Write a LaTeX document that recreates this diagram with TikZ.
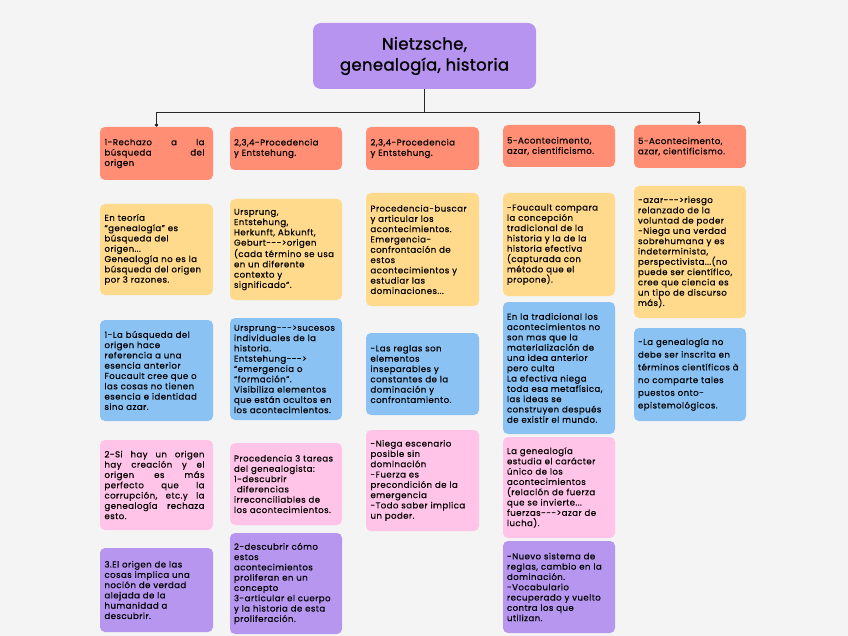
\documentclass[tikz,border=0pt]{standalone}
\usepackage{fontspec}
\setmainfont{Poppins}
\newfontfamily\cajafont[LetterSpace=5,FakeBold=0.4]{Poppins}
\newfontfamily\titulofont[LetterSpace=2,FakeBold=1.2]{Poppins}
\usetikzlibrary{arrows.meta}
\definecolor{FondoGris}{RGB}{244,244,244}
\definecolor{LilaTitulo}{RGB}{183,148,240}
\definecolor{SalmonCab}{RGB}{255,142,116}
\definecolor{AmarilloCaja}{RGB}{255,218,140}
\definecolor{AzulCaja}{RGB}{138,194,244}
\definecolor{RosaCaja}{RGB}{255,196,232}
\definecolor{LilaCaja}{RGB}{183,150,240}
\newcommand{\lj}[1]{\leavevmode\hbox to 100pt{#1}}

\tikzset{
  caja/.style={rounded corners=5pt, inner sep=0pt, text width=104pt, align=left,
    minimum width=113pt, font=\cajafont\fontsize{8.6}{10.3}\selectfont},
  cab/.style={caja, fill=SalmonCab},
  amarilla/.style={caja, fill=AmarilloCaja},
  azul/.style={caja, fill=AzulCaja},
  rosa/.style={caja, fill=RosaCaja},
  lila/.style={caja, fill=LilaCaja},
  enlace/.style={line width=0.8pt, draw=black!85},
}

\begin{document}
\begin{tikzpicture}[x=1pt,y=-1pt]
  \useasboundingbox (0,0) rectangle (848,636);
  \fill[FondoGris] (0,0) rectangle (848,636);

  \node[fill=LilaTitulo, rounded corners=8pt, minimum width=223pt, minimum height=66pt,
        align=center, font=\titulofont\fontsize{16.5}{21}\selectfont]
       (titulo) at (424.5,56) {Nietzsche,\\genealogía, historia};

  % columna 1
  \node[cab, minimum height=53pt] (rechazo) at (156.5,153.5)
       {\lj{1-Rechazo\hfill a\hfill la}\\\lj{búsqueda\hfill del}\\origen};
  \node[amarilla, minimum height=91pt] (teoria) at (156.5,249.5)
       {En teoría\\“genealogía” es\\búsqueda del\\origen...\\Genealogía no es la\\búsqueda del origen\\por 3 razones.};
  \node[azul, minimum height=101pt] (esencia) at (156.5,370.5)
       {1-La búsqueda del\\origen hace\\referencia a una\\esencia anterior\\Foucault cree que o\\las cosas no tienen\\esencia e identidad\\sino azar.};
  \node[rosa, minimum height=90pt] (creacion) at (156.5,485)
       {\lj{2-Si\hfill hay\hfill un\hfill origen}\\\lj{hay\hfill creación\hfill y\hfill el}\\\lj{origen\hfill es\hfill más}\\\lj{perfecto\hfill que\hfill la}\\\lj{corrupción,\hfill etc.y\hfill la}\\\lj{genealogía\hfill rechaza}\\esto.};
  \node[lila, minimum height=84pt] (verdad) at (156.5,590)
       {3.El origen de las\\cosas implica una\\noción de verdad\\alejada de la\\humanidad a\\descubrir.};

  % columna 2
  \node[cab, minimum width=112pt, minimum height=43pt] (proc1) at (286,148.5)
       {2,3,4-Procedencia\\y Entstehung.};
  \node[amarilla, minimum width=112pt, minimum height=101pt] (terminos) at (286,249.5)
       {Ursprung,\\Entstehung,\\Herkunft, Abkunft,\\Geburt-{}-{}-{}>origen\\(cada término se usa\\en un diferente\\contexto y\\significado”.};
  \node[azul, minimum width=112pt, minimum height=102pt] (sucesos) at (286,369)
       {Ursprung-{}-{}-{}>sucesos\\individuales de la\\historia.\\Entstehung-{}-{}-{}>\\“emergencia o\\“formación”.\\Visibiliza elementos\\que están ocultos en\\los acontecimientos.};
  \node[rosa, minimum width=112pt, minimum height=82pt] (tareas) at (286,484)
       {Procedencia 3 tareas\\del genealogista:\\1-descubrir\\\ diferencias\\irreconciliables de\\los acontecimientos.};
  \node[lila, minimum width=112pt, minimum height=101pt] (articular) at (286,583.5)
       {2-descubrir cómo\\estos\\acontecimientos\\proliferan en un\\concepto\\3-articular el cuerpo\\y la historia de esta\\proliferación.};

  % columna 3
  \node[cab, minimum height=43pt] (proc2) at (422.5,148.5)
       {2,3,4-Procedencia\\y Entstehung.};
  \node[amarilla, minimum height=113pt] (buscar) at (422.5,249.5)
       {Procedencia-buscar\\y articular los\\acontecimientos.\\Emergencia-\\confrontación de\\estos\\acontecimientos y\\estudiar las\\dominaciones...};
  \node[azul, minimum height=82pt] (reglas) at (422.5,374)
       {-Las reglas son\\elementos\\inseparables y\\constantes de la\\dominación y\\confrontamiento.};
  \node[rosa, minimum height=101pt] (escenario) at (422.5,480.5)
       {-Niega escenario\\posible sin\\dominación\\-Fuerza es\\precondición de la\\emergencia\\-Todo saber implica\\un poder.};

  % columna 4
  \node[cab, minimum width=112pt, minimum height=42pt] (acont1) at (559,146)
       {5-Acontecimento,\\azar, cientificismo.};
  \node[amarilla, minimum width=112pt, minimum height=103pt] (compara) at (559,244.5)
       {-Foucault compara\\la concepción\\tradicional de la\\historia y la de la\\historia efectiva\\(capturada con\\método que el\\propone).};
  \node[azul, minimum width=112pt, minimum height=132pt] (tradicional) at (559,368)
       {En la tradicional los\\acontecimientos no\\son mas que la\\materialización de\\una idea anterior\\pero culta\\La efectiva niega\\toda esa metafísica,\\las ideas se\\construyen después\\de existir el mundo.};
  \node[rosa, minimum width=112pt, minimum height=101pt] (caracter) at (559,487.5)
       {La genealogía\\estudia el carácter\\único de los\\acontecimientos\\(relación de fuerza\\que se invierte...\\fuerzas-{}-{}-{}>azar de\\lucha).};
  \node[lila, minimum width=112pt, minimum height=92pt] (sistema) at (559,587)
       {-Nuevo sistema de\\reglas, cambio en la\\dominación.\\-Vocabulario\\recuperado y vuelto\\contra los que\\utilizan.};

  % columna 5
  \node[cab, minimum width=112pt, minimum height=43pt] (acont2) at (690,146.5)
       {5-Acontecimento,\\azar, cientificismo.};
  \node[amarilla, minimum width=112pt, minimum height=132pt] (riesgo) at (690,252)
       {-azar-{}-{}-{}>riesgo\\relanzado de la\\voluntad de poder\\-Niega una verdad\\sobrehumana y es\\indeterminista,\\perspectivista...(no\\puede ser científico,\\cree que ciencia es\\un tipo de discurso\\más).};
  \node[azul, minimum width=112pt, minimum height=93pt,
        font=\cajafont\fontsize{8.6}{12.7}\selectfont] (inscrita) at (690,374.5)
       {-La genealogía no\\debe ser inscrita en\\términos científicos à\\no comparte tales\\puestos onto-\\epistemológicos.};

  % conectores
  \coordinate (barra) at (424.5,112);
  \coordinate (llegada) at (699,124);
  \draw[enlace] (titulo.south) -- (barra);
  \draw[enlace,-{Circle[length=3.5pt]}] (barra) -| (rechazo.north);
  \draw[enlace,-{Circle[length=3.5pt]}] (barra) -| (llegada);
\end{tikzpicture}
\end{document}
